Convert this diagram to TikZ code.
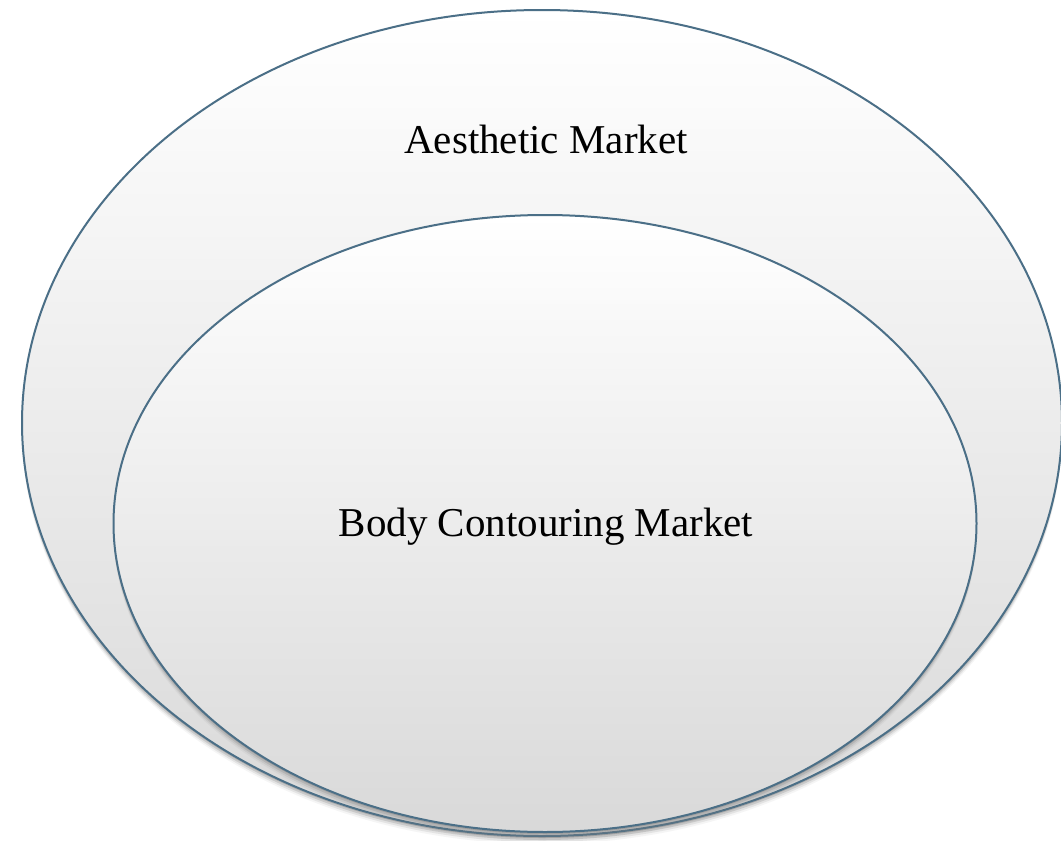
\documentclass[tikz,border=0pt]{standalone}
\usepackage{fontspec}
\setmainfont{Liberation Serif}
\usepackage{tikz}
\usetikzlibrary{shapes.geometric,shadows}

\definecolor{rimblue}{RGB}{75,111,135}

\tikzset{
 market/.style={ellipse,draw=rimblue,line width=2pt,inner sep=0pt,
  top color=white,bottom color=black!15,
  drop shadow={shadow xshift=0pt,shadow yshift=-2pt,opacity=.4},
  drop shadow={shadow xshift=0pt,shadow yshift=-4pt,opacity=.25},
  drop shadow={shadow xshift=0pt,shadow yshift=-6pt,opacity=.15},
  drop shadow={shadow xshift=0pt,shadow yshift=-8pt,opacity=.08}},
 label/.style={font=\fontsize{41}{46}\selectfont,text=black,inner sep=0pt}
}

\begin{document}
\begin{tikzpicture}[x=1pt,y=-1pt]
 \useasboundingbox (0,0) rectangle (1061,841);
 \fill[white] (0,0) rectangle (1061,841);

 % outer and inner market
 \node[market,minimum width=1040pt,minimum height=826pt] (aesthetic) at (542,423) {};
 \node[market,minimum width=863pt,minimum height=617pt] (contouring) at (545,523.5) {};

 % labels
 \node[label] (aestheticlbl) at (546,139) {Aesthetic Market};
 \node[label] (contouringlbl) at (546,527) {Body Contouring Market};
\end{tikzpicture}
\end{document}
